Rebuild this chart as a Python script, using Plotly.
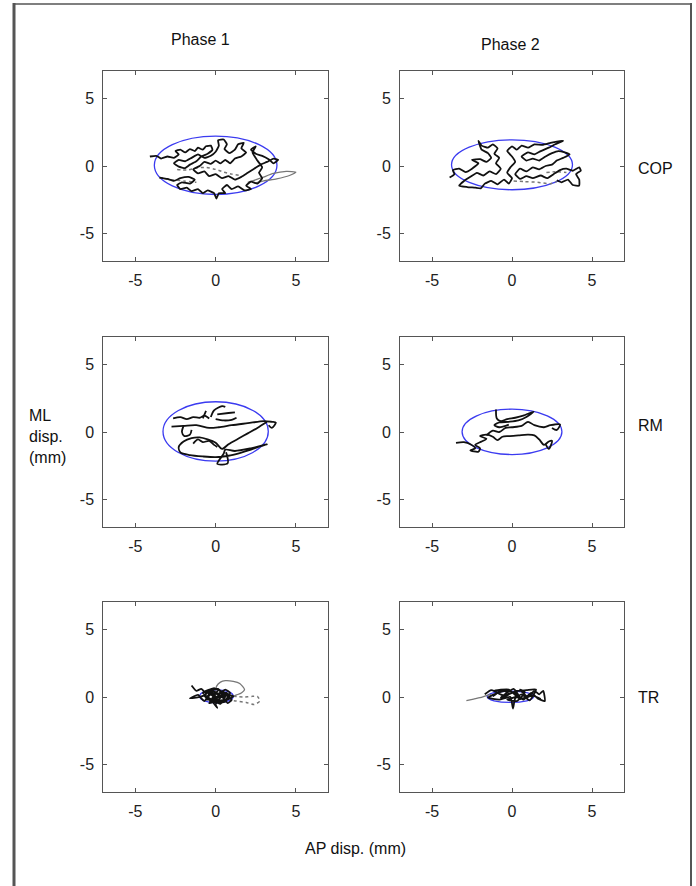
import plotly.graph_objects as go

W, H = 696, 886

# ---------------- data (mm) ----------------
tick_vals = [-5, 0, 5]
tick_text = ["-5", "0", "5"]
col_titles = ["Phase 1", "Phase 2"]
row_titles = ["COP", "RM", "TR"]

# 95% ellipses: centre x, centre y, semi-axis x, semi-axis y  (one per panel)
ell_cx = [0.0, 0.0, 0.0, 0.0, 0.05, -0.1]
ell_cy = [0.05, 0.09, 0.04, 0.01, 0.05, 0.02]
ell_ax = [3.82, 3.78, 3.28, 3.12, 1.05, 1.45]
ell_ay = [2.15, 1.84, 2.19, 1.67, 0.48, 0.42]

# COP phase 1
cop1_x = [-4.1, -3.7, -3.4, -3.0, -2.6, -2.3, -2.5, -2.2, -1.9, -1.6, -1.3, -1.1, -0.8, -0.6, -0.3, -0.2, -0.5,
          -0.9, -1.2, -1.6, -1.9, -2.3, -2.6, -2.3, -1.9, -1.5, -1.1, -0.7, -0.3, 0.0, 0.2, 0.15, 0.5, 0.7, 0.55,
          0.85, 1.2, 1.4, 1.75, 1.6, 1.9, 1.6, 1.2, 0.9, 0.6, 0.3, 0.0, -0.3, -0.7, -1.0, -1.4, -1.1, -0.7, -0.4,
          0.0, 0.4, 0.8, 1.2, 1.6, 2.0, 2.4, 2.8, 3.2, 3.6, 3.9, 3.6, 3.3, 2.9, 2.5, 2.2, 2.5, 2.3, 2.6, 2.9, 2.7,
          2.9, 2.6, 2.2, 1.9, 2.2, 1.8, 1.4, 1.0, 0.7, 0.4, 0.6, 0.2, 0.05, -0.1, -0.5, -0.8, -1.1, -1.5, -1.8,
          -2.2, -2.4, -2.1, -1.6, -1.3, -1.7, -2.2, -2.6, -3.0, -3.5]
cop1_y = [0.7, 0.75, 0.55, 0.7, 0.6, 0.85, 1.1, 1.2, 1.0, 1.25, 1.1, 1.35, 1.2, 1.45, 1.5, 1.2, 0.9, 0.7, 0.35,
          0.1, -0.15, -0.05, 0.2, 0.45, 0.35, 0.6, 0.85, 0.6, 0.75, 1.05, 1.5, 1.9, 1.95, 1.6, 1.25, 0.95, 1.2, 1.6,
          1.7, 1.3, 1.0, 0.7, 0.55, 0.2, 0.45, 0.2, 0.4, 0.15, 0.3, 0.0, -0.25, -0.55, -0.4, -0.75, -0.6, -0.9,
          -0.75, -1.0, -0.8, -0.5, -0.2, 0.1, 0.3, 0.55, 0.45, 0.2, 0.5, 0.75, 0.9, 1.2, 1.45, 1.0, 0.4, -0.1,
          -0.5, -0.9, -1.3, -1.15, -1.45, -1.7, -1.8, -1.5, -1.7, -1.4, -1.7, -2.0, -2.0, -2.4, -2.0, -1.8, -2.0,
          -1.7, -1.85, -1.6, -1.7, -1.4, -1.2, -1.3, -1.0, -0.8, -0.9, -1.1, -0.95, -0.85]
cop1_dot_x = [-2.4, -1.8, -1.2, -0.6, 0.0, 0.5, 1.0, 1.5, None, -3.5, -2.8, -2.0, -1.2]
cop1_dot_y = [-0.25, -0.3, -0.15, -0.1, -0.25, -0.45, -0.6, -0.7, None, -0.85, -1.0, -1.1, -1.2]
cop1_grey_x = [2.0, 2.8, 3.6, 4.4, 5.0, 4.6, 3.8, 3.0, 2.5]
cop1_grey_y = [-1.2, -0.9, -0.55, -0.4, -0.45, -0.7, -0.95, -1.1, -1.25]

# COP phase 2
cop2_x = [-3.9, -3.6, -3.7, -3.3, -2.9, -2.5, -2.1, -2.5, -2.0, -1.6, -1.3, -1.5, -1.9, -2.1, -1.9, -1.5, -1.2,
          -0.9, -1.1, -0.8, -1.0, -0.7, -1.0, -1.4, -1.8, -2.2, -2.6, -3.0, -3.3, -2.8, -2.3, -1.95, -1.7, -1.3,
          -0.9, -0.5, -0.2, 0.0, -0.3, -0.1, 0.2, 0.0, -0.3, 0.0, 0.3, 0.6, 1.0, 1.4, 1.9, 2.4, 2.8, 3.2, 2.7, 2.3,
          1.8, 1.4, 1.0, 0.6, 0.9, 1.3, 1.7, 2.1, 2.5, 2.9, 3.3, 3.6, 3.2, 2.8, 2.5, 2.1, 1.7, 1.3, 0.9, 0.5, 0.2,
          0.5, 0.9, 1.3, 1.8, 2.2, 2.6, 3.0, 3.4, 3.8, 4.2, 4.3, 4.0, 4.2, 4.2, 3.8, 3.5, 3.1, 2.8]
cop2_y = [-0.85, -0.6, -0.3, -0.2, -0.45, -0.2, 0.2, 0.45, 0.5, 0.3, 0.6, 0.95, 1.2, 1.85, 1.5, 1.35, 1.6, 1.3,
          0.9, 0.6, 0.2, -0.2, -0.6, -0.4, -0.7, -0.5, -0.8, -1.1, -1.45, -1.55, -1.6, -1.65, -1.3, -1.1, -1.35,
          -1.0, -1.3, -0.9, -0.5, -0.1, 0.3, 0.7, 1.1, 1.45, 1.2, 1.5, 1.35, 1.6, 1.55, 1.7, 1.8, 1.85, 1.6, 1.35,
          1.1, 0.85, 1.0, 0.7, 0.4, 0.55, 0.4, 0.7, 0.95, 1.1, 1.0, 0.85, 0.6, 0.4, 0.1, 0.0, -0.25, -0.1, -0.4,
          -0.2, -0.6, -0.95, -0.75, -0.9, -0.7, -0.9, -0.6, -0.3, -0.2, -0.35, -0.1, -0.35, -0.6, -1.0, -1.45,
          -1.4, -1.0, -1.2, -1.05]
cop2_dot_x = [2.15, 2.7, 3.4, None, 0.1, 0.8, 1.6, 2.4, 2.8]
cop2_dot_y = [-0.48, -0.42, -0.48, None, -1.1, -1.15, -1.2, -1.3, -1.15]

# RM phase 1
rm1_x = [-2.65, -2.2, -1.8, -1.4, -1.0, -0.7, -0.4, None,
         -0.8, -0.6, None,
         -0.3, -0.1, 0.4, 0.6, None,
         0.1, 0.8, 1.2, None,
         0.0, 0.5, 1.0, 1.3, None,
         -2.75, -2.0, -1.2, -0.4, 0.2, 1.0, 2.0, 3.0, 3.5, 3.75, 3.5, 3.3, None,
         3.2, 2.6, 2.0, 1.4, 0.8, 0.4, 0.0, -0.5, -1.0, -1.5, -2.0, -2.3, -2.2, -1.6, -0.8, 0.0, 0.8, 1.5, 2.2,
         2.8, 3.2, 2.2, 1.2, 0.6, 0.5, 0.1, 0.75, 0.65, None,
         -1.4, -1.1, -0.8, -0.4, -0.1, 0.1, None,
         -2.0, -2.1, -1.95, -1.6, -1.5]
rm1_y = [1.0, 1.1, 0.95, 1.1, 1.05, 1.2, 1.0, None,
         1.0, 1.55, None,
         1.1, 1.6, 1.9, 1.85, None,
         1.3, 1.4, 1.45, None,
         0.95, 0.85, 0.9, 1.05, None,
         0.4, 0.45, 0.5, 0.3, 0.35, 0.5, 0.65, 0.8, 0.75, 0.7, 0.3, 0.5, None,
         0.75, 0.3, -0.1, -0.5, -0.9, -1.25, -0.8, -0.55, -0.4, -0.45, -0.7, -1.1, -1.5, -1.7, -1.8, -1.85, -1.75,
         -1.55, -1.3, -1.05, -0.9, -1.2, -1.4, -1.3, -1.6, -2.35, -2.3, -1.5, None,
         -0.85, -0.55, -0.75, -0.65, -0.95, -1.1, None,
         0.45, 0.0, -0.3, -0.2, 0.15]

# RM phase 2
rm2_x = [-3.5, -3.0, -2.6, -2.3, -2.6, -2.1, -2.0, -2.3, -1.9, -1.6, -2.0, -1.6, -1.2, -0.9, -0.6, -0.2, 0.4, 1.0,
         1.4, 1.7, 2.0, 2.3, 2.5, 2.3, 2.1, None,
         -1.6, -1.2, -0.8, -0.4, 0.0, 0.6, 1.0, 1.4, 2.0, 2.4, 3.0, 2.8, 2.5, None,
         -1.0, -0.95, -0.7, -0.3, 0.2, 0.7, 1.35, 0.9, 0.4, -0.2, -0.8, -1.1, -0.8, -0.2]
rm2_y = [-0.8, -0.75, -0.9, -1.2, -1.35, -1.45, -1.2, -0.95, -0.7, -0.5, -0.3, -0.2, -0.35, -0.6, -0.35, -0.3, -0.25,
         -0.2, -0.25, -0.55, -0.95, -0.7, -0.65, -1.25, -0.9, None,
         -0.25, 0.1, 0.0, 0.3, 0.35, 0.45, 0.75, 0.5, 0.35, 0.5, 0.55, 0.15, 0.3, None,
         1.65, 1.0, 0.8, 0.95, 1.05, 1.2, 1.5, 1.1, 0.85, 0.75, 0.7, 0.5, 0.35, 0.55]

# TR phase 1
tr1_x = [-1.5, -1.2, -0.9, -0.6, -1.0, -1.6, -1.1, -0.7, -0.3, 0.1, -0.4, 0.2, 0.5, 0.0, -0.5, 0.3, 0.7, 0.2, -0.2,
         0.6, 0.9, 0.4, -0.1, -0.6, -0.2, 0.3, 0.8, 1.1, 0.5, 0.0, 0.1, -0.3, -0.8, -0.4, 0.2, 0.6, 0.9, 0.45, -0.05,
         -0.55, -0.25, 0.35, 0.75, 1.0, 0.3, -0.1, -0.7, -0.35, 0.15, 0.55, 0.0]
tr1_y = [0.85, 0.45, 0.6, 0.2, 0.0, -0.1, 0.15, -0.3, 0.4, -0.2, -0.45, 0.5, -0.1, 0.3, 0.05, -0.5, 0.3, 0.05, -0.35,
         -0.35, 0.15, 0.4, 0.65, 0.4, 0.1, -0.25, -0.15, 0.05, 0.2, -0.55, -0.8, -0.2, 0.3, 0.55, 0.25, 0.55, 0.3,
         -0.4, -0.1, -0.2, 0.3, 0.1, -0.45, -0.2, 0.35, -0.4, 0.1, 0.45, 0.6, 0.05, 0.0]
tr1_grey_x = [0.0, 0.06, 0.3, 0.6, 1.1, 1.5, 1.8, 1.6, 1.3, 1.1]
tr1_grey_y = [0.0, 0.8, 1.1, 1.2, 1.15, 1.0, 0.55, 0.3, 0.15, 0.05]
tr1_dot_x = [1.1, 1.7, 2.3, 2.6, 2.75, 2.4, 1.9, 1.3, 0.9]
tr1_dot_y = [0.05, 0.0, 0.05, 0.05, -0.3, -0.55, -0.4, -0.3, -0.25]

# TR phase 2
tr2_x = [-1.7, -1.3, -0.9, -1.2, -0.6, -0.2, -0.7, 0.1, 0.4, -0.3, 0.3, 0.8, 0.5, 1.0, 1.4, 1.7, 1.95, 2.05, 1.6,
         1.2, 0.7, 0.2, -0.4, -1.0, -1.5, -0.8, -0.1, 0.06, 0.2, 0.6, 1.1, 1.5, 0.9, 0.3, -0.5, -1.1, -0.2, 0.5,
         1.3, 1.8]
tr2_y = [0.2, 0.5, 0.3, 0.05, 0.55, 0.2, -0.05, 0.6, 0.1, -0.2, -0.3, 0.35, 0.55, 0.0, 0.45, 0.2, 0.45, -0.3, -0.1,
         0.3, -0.2, 0.3, 0.45, 0.25, -0.05, -0.2, 0.0, -0.85, -0.1, 0.2, -0.25, 0.55, 0.5, 0.45, 0.1, 0.45, 0.55,
         -0.15, 0.1, -0.15]
tr2_tail_x = [-2.85, -2.4, -2.0, -1.6, -1.3]
tr2_tail_y = [-0.27, -0.15, -0.05, 0.1, 0.2]

black_x = [cop1_x, cop2_x, rm1_x, rm2_x, tr1_x, tr2_x]
black_y = [cop1_y, cop2_y, rm1_y, rm2_y, tr1_y, tr2_y]
dot_x = [cop1_dot_x, cop2_dot_x, [], [], tr1_dot_x, []]
dot_y = [cop1_dot_y, cop2_dot_y, [], [], tr1_dot_y, []]
grey_x = [cop1_grey_x, [], [], [], tr1_grey_x, tr2_tail_x]
grey_y = [cop1_grey_y, [], [], [], tr1_grey_y, tr2_tail_y]
smooth = [0.4, 0.4, 0.8, 0.8, 0.5, 0.5]

# ---------------- layout geometry (pixels) ----------------
col_px = [(103.3, 328.0), (400.0, 624.0)]
row_px = [(71.0, 261.0), (337.0, 527.0), (602.0, 792.0)]

def px_x(p):
    return p / W

def px_y(p):
    return 1 - p / H

FONT = "Liberation Sans, Arial, Helvetica, sans-serif"
fig = go.Figure()
layout = dict(width=W, height=H, margin=dict(l=0, r=0, t=0, b=0), paper_bgcolor="white",
              plot_bgcolor="white", showlegend=False, font=dict(family=FONT, size=16, color="#222"))
shapes = []
axis_common = dict(range=[-7, 7], tickvals=tick_vals, ticktext=tick_text, ticks="inside", ticklen=4,
                   tickcolor="#555", showline=True, linecolor="#555", linewidth=1, mirror="ticks",
                   showgrid=False, zeroline=False, tickfont=dict(family=FONT, size=16, color="#222"),
                   fixedrange=True)

for r in range(3):
    for c in range(2):
        i = r * 2 + c
        n = i + 1
        xa = "xaxis" if n == 1 else f"xaxis{n}"
        ya = "yaxis" if n == 1 else f"yaxis{n}"
        xr = "x" if n == 1 else f"x{n}"
        yr = "y" if n == 1 else f"y{n}"
        layout[xa] = dict(axis_common, domain=[px_x(col_px[c][0]), px_x(col_px[c][1])], anchor=yr,
                          ticklabelstandoff=5)
        layout[ya] = dict(axis_common, domain=[px_y(row_px[r][1]), px_y(row_px[r][0])], anchor=xr,
                          ticklabelstandoff=5)
        if grey_x[i]:
            fig.add_trace(go.Scatter(x=grey_x[i], y=grey_y[i], mode="lines", xaxis=xr, yaxis=yr,
                                     line=dict(color="#777", width=1.3, shape="spline", smoothing=0.6),
                                     hoverinfo="skip"))
        if dot_x[i]:
            fig.add_trace(go.Scatter(x=dot_x[i], y=dot_y[i], mode="lines", xaxis=xr, yaxis=yr,
                                     line=dict(color="#777", width=1.5, dash="dot", shape="spline", smoothing=0.6),
                                     hoverinfo="skip"))
        fig.add_trace(go.Scatter(x=black_x[i], y=black_y[i], mode="lines", xaxis=xr, yaxis=yr,
                                 line=dict(color="#111", width=1.8, shape="spline", smoothing=smooth[i]),
                                 hoverinfo="skip"))
        shapes.append(dict(type="circle", xref=xr, yref=yr,
                           x0=ell_cx[i] - ell_ax[i], x1=ell_cx[i] + ell_ax[i],
                           y0=ell_cy[i] - ell_ay[i], y1=ell_cy[i] + ell_ay[i],
                           line=dict(color="#3b3bf0", width=1.3), layer="below"))

# outer frame
frame = "#555"
shapes.append(dict(type="line", xref="paper", yref="paper", x0=px_x(14), x1=px_x(14), y0=px_y(3), y1=px_y(890),
                   line=dict(color=frame, width=3)))
shapes.append(dict(type="line", xref="paper", yref="paper", x0=px_x(13), x1=px_x(691), y0=px_y(4), y1=px_y(4),
                   line=dict(color=frame, width=1.5)))
shapes.append(dict(type="line", xref="paper", yref="paper", x0=px_x(691), x1=px_x(691), y0=px_y(3), y1=px_y(890),
                   line=dict(color=frame, width=2)))
layout["shapes"] = shapes

ann = []
def text(s, x, y, xanchor="center", align="center"):
    ann.append(dict(text=s, x=px_x(x), y=px_y(y), xref="paper", yref="paper", showarrow=False,
                    xanchor=xanchor, yanchor="middle", align=align,
                    font=dict(family=FONT, size=16, color="#111")))

text(col_titles[0], 200, 40)
text(col_titles[1], 510, 44)
text(row_titles[0], 636, 168, xanchor="left")
text(row_titles[1], 636, 425, xanchor="left")
text(row_titles[2], 636, 697, xanchor="left")
text("ML<br>disp.<br>(mm)", 27, 436, xanchor="left", align="left")
text("AP disp. (mm)", 355, 848)
layout["annotations"] = ann

fig.update_layout(**layout)
fig.write_html("out.html", config={"displayModeBar": False},
               post_script="document.body.style.margin='0';document.body.style.overflow='hidden';")
